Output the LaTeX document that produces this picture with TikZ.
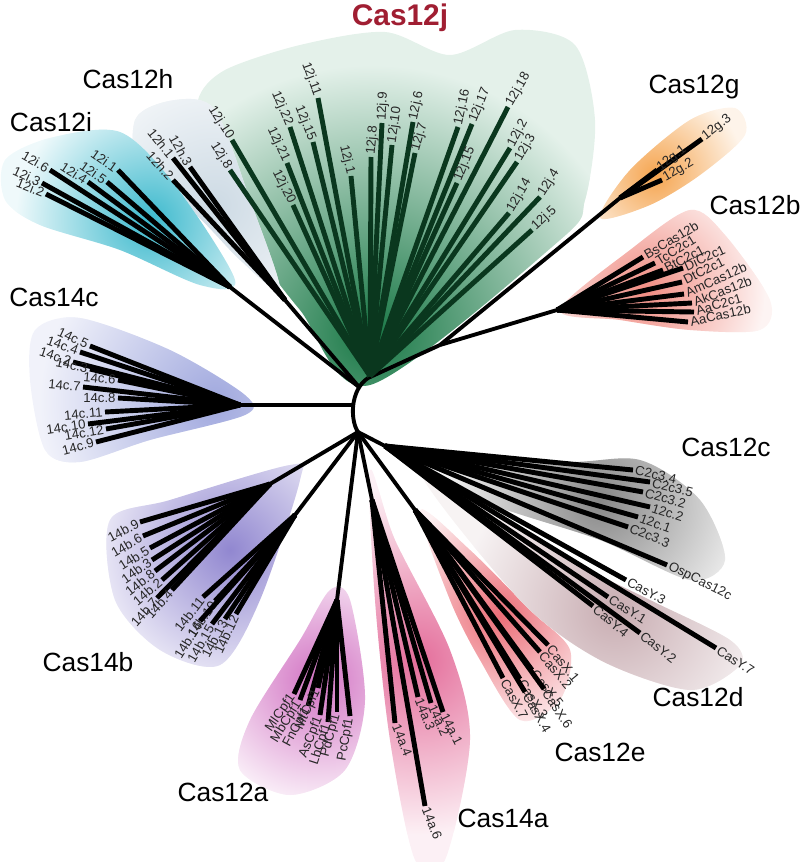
\documentclass[tikz,border=0pt]{standalone}
\usepackage{fontspec}
\setmainfont{Liberation Sans}
\usepackage{xcolor}
\usepackage{tikz}

\definecolor{jgreen}{RGB}{25,120,70}
\definecolor{jlight}{RGB}{228,241,234}
\definecolor{leafgreen}{RGB}{10,55,30}
\definecolor{icyan}{RGB}{60,185,205}
\definecolor{hgrey}{RGB}{205,218,228}
\definecolor{gorange}{RGB}{245,165,80}
\definecolor{bsalmon}{RGB}{240,140,130}
\definecolor{cblue}{RGB}{160,168,222}
\definecolor{bpurple}{RGB}{145,135,208}
\definecolor{amagenta}{RGB}{210,115,195}
\definecolor{apink}{RGB}{228,110,155}
\definecolor{ered}{RGB}{235,110,120}
\definecolor{cgrey}{RGB}{135,135,135}
\definecolor{dmauve}{RGB}{200,172,177}
\definecolor{titlered}{RGB}{160,30,50}

\tikzset{
  leaf/.style={line width=2.8pt},
  branch/.style={line width=2.2pt},
  leaflbl/.style={font=\fontsize{7.5}{9}\selectfont, text=black!85, inner sep=1.2pt},
  clade/.style={font=\fontsize{15}{17}\selectfont},
}

% clade background: #1 outline, #2 colour, #3 light colour, #4 centre, #5 radius
\newcommand{\cladebg}[5]{%
  \fill[#3] plot[smooth cycle] coordinates {#1};
  \begin{scope}
  \clip plot[smooth cycle] coordinates {#1};
  \shade[inner color=#2, outer color=#3] #4 circle (#5);
  \end{scope}}

\begin{document}
\begin{tikzpicture}[x=0.02cm,y=-0.02cm]
		\useasboundingbox (0,0) rectangle (800,862);
		%
		% shaded clades
		\cladebg{(370,385) (300,310) (245,235) (205,150) (198,100) (225,70) (300,45) (385,32) (450,55) (515,30) (575,45) (595,120) (585,200) (560,240)}{jgreen}{jlight}{(372,335)}{5.4cm}
		\cladebg{(135,120) (175,100) (215,110) (250,200) (280,290) (240,260) (190,210) (140,190)}{hgrey}{hgrey!25}{(215,205)}{2.6cm}
		\cladebg{(5,160) (50,138) (120,132) (175,185) (235,280) (200,285) (120,250) (40,225) (5,200)}{icyan}{icyan!8}{(150,220)}{2.7cm}
		\cladebg{(600,218) (630,170) (690,120) (735,108) (745,135) (700,175) (650,205)}{gorange}{gorange!12}{(655,175)}{1.8cm}
		\cladebg{(560,310) (630,250) (690,210) (725,235) (770,300) (760,330) (690,330) (620,320)}{bsalmon}{bsalmon!10}{(645,290)}{2.4cm}
		\cladebg{(35,330) (80,318) (170,350) (245,395) (245,415) (150,440) (80,462) (45,450) (30,380)}{cblue}{cblue!15}{(215,402)}{3.5cm}
		\cladebg{(110,520) (170,500) (290,465) (300,480) (260,600) (220,665) (160,650) (115,600)}{bpurple}{bpurple!10}{(230,550)}{2.9cm}
		\cladebg{(330,590) (350,600) (365,700) (345,770) (290,795) (240,770) (250,720) (300,640)}{amagenta}{amagenta!10}{(318,680)}{2.5cm}
		\cladebg{(370,470) (395,540) (450,650) (470,740) (445,860) (415,860) (390,740) (375,600)}{apink}{apink!10}{(418,660)}{3.5cm}
		\cladebg{(420,510) (470,550) (530,610) (570,650) (560,700) (520,720) (480,660) (450,600)}{ered}{ered!10}{(500,615)}{2.4cm}
		\cladebg{(400,450) (560,462) (640,460) (700,500) (725,560) (690,580) (600,540) (480,500)}{cgrey}{cgrey!10}{(600,500)}{3.1cm}
		\cladebg{(420,470) (560,555) (650,600) (730,640) (740,665) (690,690) (600,660) (520,600)}{dmauve}{dmauve!15}{(615,610)}{3.1cm}
		%
		% root and inner nodes
		\coordinate (rtop) at (368,378);
		\coordinate (rhi) at (359,387);
		\coordinate (rmid) at (353,405);
		\coordinate (rbot) at (358,432);
		\coordinate (hubj) at (370,376);
		\coordinate (hubh) at (285,300);
		\coordinate (hubi) at (230,287);
		\coordinate (hubgb) at (440,345);
		\coordinate (hubg) at (620,198);
		\coordinate (hubb) at (557,310);
		\coordinate (hubct) at (240,405);
		\coordinate (hubbu) at (270,484);
		\coordinate (hubbl) at (295,515);
		\coordinate (huba) at (337,600);
		\coordinate (hubat) at (372,500);
		\coordinate (hube) at (415,510);
		\coordinate (hubcd) at (385,446);
		%
		\draw[branch] (rtop) .. controls (350,390) and (350,420) .. (rbot);
		\path[branch]
		(rhi) edge (hubh)
		(rhi) edge (hubi)
		(rtop) edge (hubgb)
		(hubgb) edge (hubg)
		(hubgb) edge (hubb)
		(rmid) edge (hubct)
		(rbot) edge (hubbu)
		(rbot) edge (hubbl)
		(rbot) edge (huba)
		(rbot) edge (hubat)
		(rbot) edge (hube)
		(rbot) edge (hubcd);
		%
		% Cas12j
		\foreach \u/\v/\lab/\ang/\anc [count=\k] in {232/140/12j.10/-57/east, 230/170/12j.8/-58/east, 290/127/12j.22/-67/east, 287/163/12j.21/-65/east, 293/205/12j.20/-63/east, 313/142/12j.15/-68/east, 318/98/12j.11/-70/east, 351/176/12j.1/-76/east, 371/157/12j.8/85/west, 382/123/12j.9/87/west, 392/145/12j.10/82/west, 413/122/12j.6/78/west, 415/153/12j.7/74/west, 458/127/12j.16/78/west, 472/124/12j.17/68/west, 457/183/12j.15/68/west, 508/107/12j.18/60/west, 510/148/12j.2/62/west, 517/162/12j.3/60/west, 509/213/12j.14/60/west, 540/197/12j.4/58/west, 532/230/12j.5/43/west}
		{
		\coordinate (j\k) at (\u,\v);
		\draw[leaf, leafgreen] (hubj) -- (j\k);
		\node[leaflbl, rotate=\ang, anchor=\anc] (jl\k) at (j\k) {\lab};
		}
		% Cas12h
		\foreach \u/\v/\lab/\ang [count=\k] in {190/167/12h.3/-61, 173/158/12h.1/-51, 173/180/12h.2/-48}
		{
		\coordinate (h\k) at (\u,\v);
		\draw[leaf] (hubh) -- (h\k);
		\node[leaflbl, rotate=\ang, anchor=east] (hl\k) at (h\k) {\lab};
		}
		% Cas12i
		\foreach \u/\v/\lab/\ang [count=\k] in {118/170/12i.1/-35, 107/182/12i.5/-35, 88/182/12i.4/-33, 50/170/12i.6/-30, 42/183/12i.3/-25, 46/194/12i.2/-22}
		{
		\coordinate (i\k) at (\u,\v);
		\draw[leaf] (hubi) -- (i\k);
		\node[leaflbl, rotate=\ang, anchor=east] (il\k) at (i\k) {\lab};
		}
		% Cas12g
		\foreach \u/\v/\lab/\ang [count=\k] in {702/139/12g.3/38, 657/170/12g.1/38, 662/180/12g.2/30}
		{
		\coordinate (g\k) at (\u,\v);
		\draw[leaf] (hubg) -- (g\k);
		\node[leaflbl, rotate=\ang, anchor=west] (gl\k) at (g\k) {\lab};
		}
		% Cas12b
		\foreach \u/\v/\lab/\ang [count=\k] in {643/257/BsCas12b/31, 655/263/TcC2c1/32, 663/270/BtC2c1/28, 683/268/DiC2c1/25, 682/282/DtC2c1/27, 684/294/AmCas12b/24, 692/303/AkCas12b/21, 694/312/AaC2c1/17, 688/322/AaCas12b/12}
		{
		\coordinate (b\k) at (\u,\v);
		\draw[leaf] (hubb) -- (b\k);
		\node[leaflbl, rotate=\ang, anchor=west] (bl\k) at (b\k) {\lab};
		}
		% Cas14c
		\foreach \u/\v/\lab/\ang [count=\k] in {90/346/14c.5/-25, 80/352/14c.4/-20, 73/362/14c.2/-18, 90/369/14c.3/-12, 118/380/14c.6/-5, 83/387/14c.7/-5, 118/398/14c.8/0, 105/412/14c.11/5, 88/424/14c.10/8, 106/429/14c.12/10, 96/442/14c.9/15}
		{
		\coordinate (ct\k) at (\u,\v);
		\draw[leaf] (hubct) -- (ct\k);
		\node[leaflbl, rotate=\ang, anchor=east] (ctl\k) at (ct\k) {\lab};
		}
		% Cas14b
		\foreach \u/\v/\lab/\ang [count=\k] in {140/522/14b.9/28, 143/536/14b.6/30, 150/548/14b.5/32, 152/560/14b.3/35, 155/571/14b.8/38, 162/580/14b.2/40, 157/598/14b.7/48, 172/590/14b.4/48}
		{
		\coordinate (bu\k) at (\u,\v);
		\draw[leaf] (hubbu) -- (bu\k);
		\node[leaflbl, rotate=\ang, anchor=east] (bul\k) at (bu\k) {\lab};
		}
		\foreach \u/\v/\lab/\ang [count=\k] in {203/597/14b.11/52, 215/601/14b.10/55, 200/621/14b.16/58, 212/624/14b.15/60, 225/619/14b.13/62, 236/614/14b.12/65}
		{
		\coordinate (bl\k) at (\u,\v);
		\draw[leaf] (hubbl) -- (bl\k);
		\node[leaflbl, rotate=\ang, anchor=east] (bll\k) at (bl\k) {\lab};
		}
		% Cas12a
		\foreach \u/\v/\lab/\ang [count=\k] in {294/694/MlCpf1/55, 300/700/MbCpf1/58, 308/706/FnCpf1/62, 318/688/MtCpf1/65, 320/715/AsCpf1/68, 328/722/LbCpf1/72, 337/712/PdCpf1/75, 350/716/PcCpf1/80}
		{
		\coordinate (a\k) at (\u,\v);
		\draw[leaf] (huba) -- (a\k);
		\node[leaflbl, rotate=\ang, anchor=east] (al\k) at (a\k) {\lab};
		}
		% Cas14a
		\foreach \u/\v/\lab/\ang [count=\k] in {395/723/14a.4/-68, 418/697/14a.3/-68, 431/703/14a.2/-66, 443/712/14a.1/-63, 425/806/14a.6/-68}
		{
		\coordinate (at\k) at (\u,\v);
		\draw[leaf] (hubat) -- (at\k);
		\node[leaflbl, rotate=\ang, anchor=west] (atl\k) at (at\k) {\lab};
		}
		% Cas12e
		\foreach \u/\v/\lab/\ang [count=\k] in {548/645/CasX.1/-51, 540/652/CasX.2/-50, 532/670/CasX.5/-51, 544/689/CasX.6/-56, 520/679/CasX.3/-57, 525/692/CasX.4/-60, 503/678/CasX.7/-62}
		{
		\coordinate (e\k) at (\u,\v);
		\draw[leaf] (hube) -- (e\k);
		\node[leaflbl, rotate=\ang, anchor=west] (el\k) at (e\k) {\lab};
		}
		% Cas12c and Cas12d
		\foreach \u/\v/\lab/\ang [count=\k] in {633/470/C2c3.4/-12, 650/482/C2c3.5/-14, 643/492/C2c3.2/-16, 650/507/12c.2/-18, 638/517/12c.1/-20, 628/527/C2c3.3/-22, 667/565/OspCas12c/-27, 626/580/CasY.3/-28, 608/597/CasY.1/-32, 593/606/CasY.4/-40, 640/633/CasY.2/-38, 716/648/CasY.7/-33}
		{
		\coordinate (c\k) at (\u,\v);
		\draw[leaf] (hubcd) -- (c\k);
		\node[leaflbl, rotate=\ang, anchor=west] (cl\k) at (c\k) {\lab};
		}
		%
		% clade names
		\node[clade, font=\fontsize{17}{19}\selectfont\bfseries, text=titlered] (cas12j) at (400,18) {Cas12j};
		\node[clade] (cas12h) at (128,79) {Cas12h};
		\node[clade] (cas12i) at (51,122) {Cas12i};
		\node[clade] (cas12g) at (694,87) {Cas12g};
		\node[clade] (cas12b) at (755,205) {Cas12b};
		\node[clade] (cas14c) at (54,297) {Cas14c};
		\node[clade] (cas12c) at (726,447) {Cas12c};
		\node[clade] (cas14b) at (88,662) {Cas14b};
		\node[clade] (cas12a) at (223,792) {Cas12a};
		\node[clade] (cas14a) at (503,818) {Cas14a};
		\node[clade] (cas12e) at (600,752) {Cas12e};
		\node[clade] (cas12d) at (698,697) {Cas12d};
\end{tikzpicture}
\end{document}
